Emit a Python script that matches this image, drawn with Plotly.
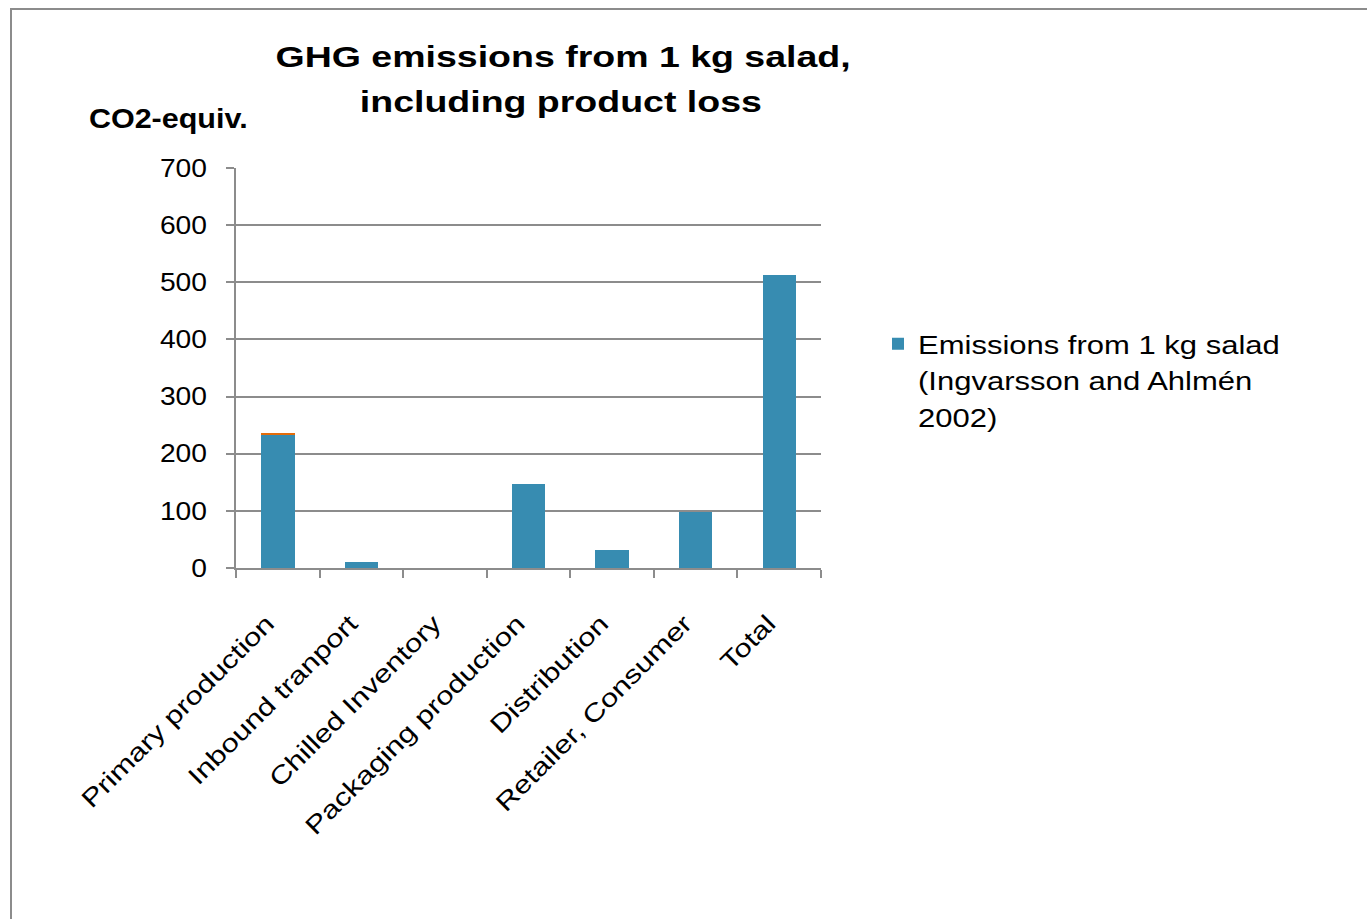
import plotly.graph_objects as go

categories = ["Primary production", "Inbound tranport", "Chilled Inventory",
              "Packaging production", "Distribution", "Retailer, Consumer", "Total"]
emissions = [232, 10, 0, 147, 31, 98, 513]
loss = [4, 0, 0, 0, 0, 0, 0]
y_ticks = [0, 100, 200, 300, 400, 500, 600, 700]

FONT = "Liberation Sans, Arial, sans-serif"
GRAY = "#8c8c8c"

fig = go.Figure()
fig.add_trace(go.Bar(x=categories, y=emissions,
                     name="Emissions from 1 kg salad<br>(Ingvarsson and Ahlmén<br>2002)",
                     marker=dict(color="#378CB1", line=dict(width=0))))
fig.add_trace(go.Bar(x=categories, y=loss, name="Product loss", showlegend=False,
                     marker=dict(color="#E46C0A", line=dict(width=0))))

L, T, R, B = 236, 168, 821, 568
W, H = 1367, 919
PW, PH = R - L, B - T


def px(xp):
    return (xp - L) / PW


def py(yp):
    return (B - yp) / PH


fig.update_layout(
    width=W, height=H, barmode="stack", bargap=0.6,
    margin=dict(l=L, r=W - R, t=T, b=H - B, autoexpand=False),
    paper_bgcolor="white", plot_bgcolor="white",
    font=dict(family=FONT, size=25, color="black"),
    showlegend=True,
    legend=dict(x=px(878), y=py(321), xanchor="left", yanchor="top",
                font=dict(size=25), bgcolor="rgba(0,0,0,0)", valign="top",
                tracegroupgap=0),
    xaxis=dict(showline=True, linecolor=GRAY, linewidth=2, ticks="outside",
               tickson="boundaries", ticklen=8, tickcolor=GRAY, tickwidth=2,
               tickangle=-45, tickfont=dict(size=25), showgrid=False,
               ticklabelstandoff=29, ticklabelshift=-11),
    yaxis=dict(range=[0, 700], tickvals=y_ticks, showline=True, linecolor=GRAY, linewidth=2,
               ticks="outside", ticklen=8, tickcolor=GRAY, tickwidth=2,
               showgrid=True, gridcolor=GRAY, gridwidth=1.5, zeroline=False,
               tickfont=dict(size=25), ticklabelstandoff=14),
    annotations=[
        dict(text="<b>GHG emissions from 1 kg salad,</b>", x=px(563), y=py(57),
             xref="paper", yref="paper", xanchor="center", yanchor="middle",
             showarrow=False, font=dict(size=30)),
        dict(text="<b>including product loss</b>", x=px(561), y=py(101),
             xref="paper", yref="paper", xanchor="center", yanchor="middle",
             showarrow=False, font=dict(size=30)),
        dict(text="<b>CO2-equiv.</b>", x=px(96), y=py(119),
             xref="paper", yref="paper", xanchor="left", yanchor="middle",
             showarrow=False, font=dict(size=27)),
    ],
    shapes=[
        dict(type="rect", xref="paper", yref="paper",
             x0=px(11), x1=px(1500), y0=py(1000), y1=py(9),
             line=dict(color=GRAY, width=2), fillcolor="rgba(0,0,0,0)", layer="below"),
    ],
)

# The reference's lettering is horizontally widened; widen the rendered glyphs to match.
js = """
var gd = document.getElementById('{plot_id}');
function widen(nodes, f) {
  nodes.forEach(function (t) {
    var lines = t.querySelectorAll('tspan.line');
    var targets = lines.length ? Array.prototype.slice.call(lines) : [t];
    targets.forEach(function (el) {
      var w = el.getComputedTextLength();
      if (w > 0) {
        el.setAttribute('textLength', (w * f).toFixed(1));
        el.setAttribute('lengthAdjust', 'spacingAndGlyphs');
      }
    });
  });
}
widen(gd.querySelectorAll('.ytick text'), 1.13);
widen(gd.querySelectorAll('.xtick text'), 1.24);
widen(gd.querySelectorAll('.legendtext'), 1.24);
gd.querySelectorAll('.legendtext').forEach(function (t) {
  t.querySelectorAll('tspan.line').forEach(function (ln) {
    var dy = parseFloat(ln.getAttribute('dy'));
    if (!isNaN(dy) && dy > 0) { ln.setAttribute('dy', (dy * 1.47 / 1.3).toFixed(3) + 'em'); }
  });
});
var ann = gd.querySelectorAll('.annotation-text');
var fac = [1.25, 1.25, 1.13];
ann.forEach(function (a, i) { widen([a], fac[i] || 1.2); });
gd.querySelectorAll('.legend [clip-path]').forEach(function (e) { e.removeAttribute('clip-path'); });
gd.querySelectorAll('.annotation [clip-path]').forEach(function (e) { e.removeAttribute('clip-path'); });
"""
fig.write_html("out.html", post_script=js)
